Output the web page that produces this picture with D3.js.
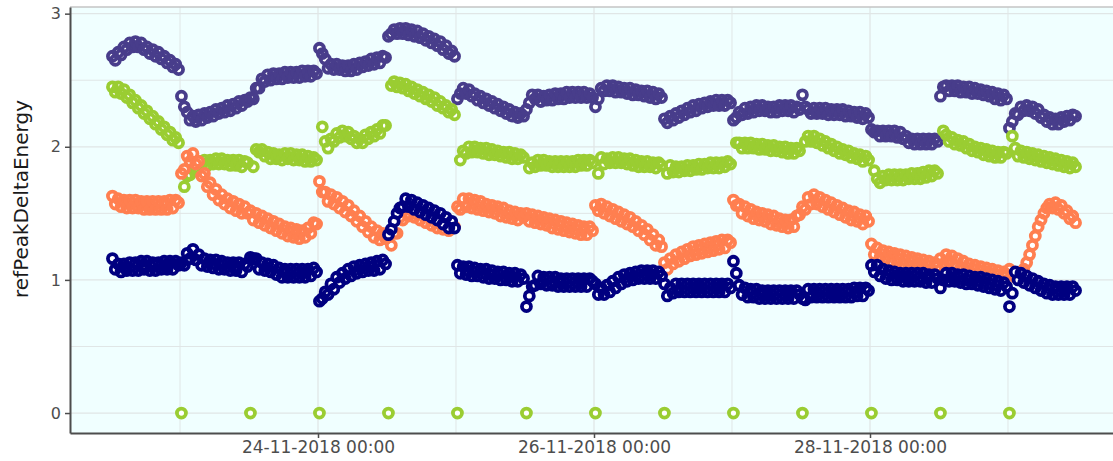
<!DOCTYPE html>
<html>
<head>
<meta charset="utf-8">
<script src="https://cdn.jsdelivr.net/npm/d3@7/dist/d3.min.js"></script>
<style>
  body { margin: 0; background: #ffffff; }
  svg { display: block; font-family: "DejaVu Sans", sans-serif; }
</style>
</head>
<body>
<svg id="chart" width="1113" height="461"></svg>
<script>
// Readings every 30 minutes, starting 22-11-2018 12:15 (UTC); one line per 12-hour block.
const startTime = "2018-11-22T12:15:00Z";
const stepMinutes = 30;

const seriesNames = ["slate", "green", "coral", "navy"];
const seriesColors = ["#483d8b", "#9acd32", "#ff7f50", "#000080"];

const slateValues = [
  2.68,2.65,2.71,2.69,2.75,2.73,2.78,2.75,2.79,2.75,2.78,2.73,2.75,2.70,2.73,2.68,2.71,2.66,2.68,2.63,2.65,2.60,2.62,2.58,
  2.38,2.30,2.26,2.20,2.23,2.19,2.24,2.20,2.25,2.22,2.26,2.23,2.28,2.25,2.29,2.26,2.31,2.27,2.32,2.29,2.34,2.31,2.35,2.34,
  2.37,2.36,2.44,2.44,2.51,2.49,2.54,2.50,2.55,2.51,2.55,2.51,2.56,2.52,2.56,2.52,2.56,2.52,2.57,2.53,2.57,2.53,2.57,2.55,
  2.74,2.70,2.66,2.59,2.62,2.58,2.62,2.58,2.61,2.57,2.61,2.57,2.62,2.58,2.63,2.60,2.64,2.61,2.66,2.62,2.67,2.63,2.68,2.67,
  2.83,2.85,2.88,2.85,2.89,2.85,2.89,2.84,2.88,2.83,2.87,2.82,2.85,2.80,2.83,2.78,2.81,2.76,2.79,2.73,2.76,2.70,2.72,2.68,
  2.36,2.40,2.44,2.40,2.43,2.38,2.40,2.35,2.38,2.33,2.36,2.31,2.34,2.29,2.32,2.27,2.30,2.25,2.28,2.23,2.26,2.22,2.25,2.23,
  2.28,2.33,2.39,2.36,2.39,2.34,2.38,2.35,2.39,2.35,2.40,2.36,2.40,2.36,2.41,2.37,2.41,2.37,2.41,2.37,2.41,2.37,2.40,2.37,
  2.30,2.36,2.44,2.42,2.46,2.42,2.46,2.41,2.45,2.41,2.44,2.40,2.44,2.39,2.43,2.39,2.42,2.38,2.42,2.37,2.41,2.36,2.40,2.37,
  2.21,2.18,2.23,2.20,2.25,2.22,2.27,2.24,2.29,2.26,2.31,2.27,2.32,2.29,2.33,2.30,2.34,2.31,2.35,2.31,2.35,2.31,2.35,2.33,
  2.20,2.22,2.26,2.24,2.29,2.25,2.30,2.26,2.31,2.27,2.31,2.27,2.30,2.26,2.30,2.26,2.31,2.27,2.31,2.27,2.31,2.26,2.30,2.28,
  2.39,2.30,2.28,2.25,2.29,2.25,2.29,2.25,2.29,2.24,2.28,2.24,2.28,2.24,2.28,2.23,2.27,2.23,2.26,2.22,2.26,2.21,2.25,2.22,
  2.13,2.11,2.12,2.08,2.12,2.08,2.12,2.08,2.12,2.07,2.11,2.06,2.08,2.03,2.06,2.02,2.06,2.02,2.06,2.02,2.06,2.02,2.06,2.04,
  2.38,2.45,2.46,2.42,2.46,2.42,2.46,2.41,2.45,2.41,2.45,2.40,2.44,2.40,2.43,2.39,2.42,2.38,2.41,2.36,2.40,2.35,2.39,2.36,
  2.14,2.19,2.25,2.24,2.30,2.27,2.31,2.27,2.30,2.25,2.28,2.22,2.24,2.19,2.22,2.17,2.21,2.17,2.22,2.19,2.23,2.20,2.24,2.23
];

const greenValues = [
  2.45,2.41,2.45,2.40,2.43,2.37,2.39,2.33,2.35,2.29,2.31,2.25,2.27,2.21,2.23,2.17,2.19,2.13,2.15,2.09,2.11,2.05,2.07,2.03,
  0,1.70,1.78,1.79,1.86,1.84,1.89,1.85,1.90,1.86,1.90,1.87,1.91,1.87,1.91,1.87,1.90,1.86,1.90,1.86,1.90,1.85,1.89,1.88,
  0,1.85,1.98,1.96,1.98,1.93,1.96,1.91,1.95,1.91,1.94,1.90,1.95,1.91,1.95,1.90,1.94,1.90,1.94,1.89,1.93,1.89,1.92,1.90,
  0,2.15,2.04,1.99,2.06,2.04,2.10,2.07,2.12,2.08,2.11,2.06,2.08,2.03,2.06,2.03,2.09,2.06,2.11,2.08,2.13,2.10,2.16,2.16,
  0,2.46,2.49,2.45,2.48,2.44,2.47,2.42,2.45,2.40,2.43,2.38,2.41,2.36,2.39,2.34,2.37,2.31,2.34,2.29,2.31,2.26,2.28,2.24,
  0,1.90,1.97,1.95,2.00,1.96,2.00,1.96,1.99,1.95,1.99,1.94,1.98,1.94,1.97,1.93,1.96,1.92,1.96,1.91,1.95,1.91,1.94,1.92,
  0,1.84,1.88,1.85,1.90,1.86,1.90,1.86,1.89,1.85,1.89,1.85,1.89,1.85,1.89,1.85,1.89,1.85,1.90,1.86,1.90,1.86,1.90,1.88,
  0,1.80,1.92,1.87,1.91,1.88,1.92,1.88,1.92,1.88,1.91,1.87,1.91,1.86,1.90,1.85,1.89,1.85,1.89,1.85,1.88,1.84,1.88,1.86,
  0,1.80,1.86,1.81,1.85,1.81,1.85,1.82,1.86,1.82,1.86,1.83,1.87,1.83,1.87,1.84,1.88,1.84,1.88,1.84,1.88,1.85,1.89,1.87,
  0,2.03,2.03,1.99,2.03,1.99,2.03,1.99,2.02,1.98,2.02,1.98,2.01,1.97,2.01,1.97,2.00,1.96,2.00,1.95,1.99,1.95,1.99,1.97,
  0,2.04,2.08,2.04,2.08,2.03,2.06,2.01,2.04,1.99,2.02,1.97,2.00,1.95,1.98,1.94,1.97,1.92,1.95,1.91,1.94,1.89,1.93,1.90,
  0,1.82,1.76,1.73,1.78,1.75,1.79,1.75,1.79,1.75,1.79,1.75,1.79,1.76,1.80,1.76,1.80,1.76,1.81,1.77,1.82,1.78,1.82,1.80,
  0,2.12,2.09,2.04,2.07,2.02,2.05,2.01,2.04,1.99,2.02,1.97,2.00,1.96,1.99,1.94,1.98,1.93,1.97,1.92,1.96,1.92,1.96,1.95,
  0,2.08,1.99,1.93,1.97,1.92,1.96,1.91,1.95,1.90,1.94,1.89,1.93,1.88,1.92,1.87,1.91,1.86,1.90,1.85,1.89,1.84,1.88,1.85
];

const coralValues = [
  1.63,1.57,1.61,1.55,1.60,1.54,1.60,1.54,1.60,1.54,1.59,1.53,1.59,1.53,1.59,1.53,1.59,1.53,1.59,1.53,1.60,1.54,1.60,1.58,
  1.80,1.83,1.93,1.89,1.95,1.87,1.89,1.78,1.80,1.70,1.73,1.64,1.68,1.60,1.64,1.57,1.61,1.54,1.59,1.52,1.57,1.50,1.55,1.50,
  1.52,1.45,1.50,1.43,1.48,1.41,1.46,1.39,1.44,1.37,1.42,1.35,1.40,1.33,1.39,1.32,1.38,1.31,1.37,1.32,1.39,1.35,1.43,1.42,
  1.74,1.66,1.66,1.59,1.64,1.57,1.62,1.54,1.59,1.51,1.56,1.48,1.52,1.44,1.48,1.40,1.44,1.36,1.40,1.32,1.37,1.30,1.35,1.31,
  1.33,1.26,1.35,1.35,1.47,1.45,1.53,1.48,1.54,1.47,1.52,1.45,1.50,1.43,1.48,1.41,1.46,1.39,1.45,1.38,1.43,1.37,1.43,1.40,
  1.55,1.53,1.61,1.55,1.61,1.54,1.60,1.53,1.59,1.52,1.57,1.51,1.56,1.50,1.55,1.48,1.54,1.47,1.52,1.46,1.51,1.45,1.50,1.47,
  1.50,1.44,1.49,1.43,1.48,1.42,1.47,1.41,1.46,1.39,1.45,1.38,1.44,1.37,1.43,1.36,1.42,1.35,1.41,1.34,1.40,1.34,1.40,1.37,
  1.56,1.52,1.57,1.50,1.55,1.48,1.53,1.46,1.51,1.44,1.49,1.42,1.47,1.40,1.44,1.37,1.41,1.34,1.38,1.30,1.34,1.26,1.30,1.25,
  1.13,1.08,1.16,1.12,1.19,1.14,1.21,1.16,1.23,1.18,1.25,1.19,1.26,1.20,1.27,1.21,1.28,1.22,1.29,1.23,1.30,1.24,1.30,1.28,
  1.60,1.56,1.57,1.50,1.55,1.48,1.53,1.46,1.51,1.45,1.50,1.44,1.49,1.42,1.48,1.41,1.46,1.40,1.45,1.39,1.45,1.40,1.48,1.49,
  1.55,1.53,1.62,1.57,1.64,1.57,1.62,1.55,1.60,1.53,1.58,1.51,1.56,1.49,1.54,1.47,1.52,1.45,1.51,1.44,1.49,1.42,1.48,1.44,
  1.27,1.19,1.24,1.17,1.22,1.16,1.21,1.14,1.20,1.13,1.19,1.12,1.18,1.11,1.17,1.10,1.16,1.09,1.15,1.08,1.14,1.07,1.13,1.10,
  1.16,1.12,1.19,1.13,1.18,1.11,1.16,1.09,1.14,1.07,1.12,1.05,1.11,1.04,1.10,1.03,1.09,1.02,1.08,1.01,1.07,1.00,1.06,1.03,
  1.08,1.04,1.02,1.02,1.04,1.08,1.13,1.19,1.26,1.33,1.40,1.45,1.50,1.54,1.57,1.54,1.58,1.53,1.56,1.50,1.52,1.46,1.48,1.43
];

const navyValues = [
  1.16,1.08,1.12,1.06,1.12,1.07,1.13,1.07,1.13,1.07,1.14,1.08,1.14,1.07,1.13,1.07,1.13,1.08,1.14,1.08,1.14,1.08,1.14,1.11,
  1.13,1.11,1.20,1.16,1.23,1.15,1.19,1.11,1.16,1.10,1.15,1.09,1.15,1.08,1.14,1.08,1.13,1.07,1.13,1.07,1.13,1.06,1.12,1.10,
  1.17,1.16,1.16,1.08,1.13,1.07,1.12,1.06,1.11,1.04,1.09,1.02,1.08,1.02,1.08,1.02,1.08,1.02,1.08,1.02,1.08,1.03,1.09,1.06,
  0.84,0.86,0.91,0.89,0.97,0.93,1.02,0.98,1.05,1.01,1.08,1.03,1.10,1.05,1.11,1.06,1.12,1.07,1.13,1.07,1.14,1.08,1.15,1.12,
  1.34,1.38,1.44,1.50,1.54,1.55,1.61,1.55,1.60,1.53,1.58,1.51,1.56,1.49,1.54,1.47,1.52,1.45,1.50,1.42,1.47,1.39,1.44,1.39,
  1.11,1.05,1.10,1.04,1.10,1.03,1.09,1.03,1.08,1.02,1.08,1.01,1.07,1.01,1.06,1.00,1.06,1.00,1.05,0.99,1.05,0.99,1.04,1.01,
  0.80,0.88,0.95,0.96,1.03,0.97,1.02,0.96,1.02,0.96,1.02,0.95,1.01,0.95,1.01,0.95,1.01,0.95,1.01,0.95,1.01,0.95,1.01,0.99,
  0.97,0.89,0.94,0.89,0.96,0.91,0.99,0.94,1.02,0.97,1.04,0.99,1.05,1.00,1.06,1.01,1.07,1.01,1.07,1.01,1.07,1.01,1.06,1.03,
  0.97,0.88,0.94,0.90,0.97,0.91,0.97,0.91,0.97,0.91,0.97,0.91,0.97,0.91,0.97,0.91,0.97,0.91,0.97,0.91,0.97,0.91,0.97,0.94,
  1.14,1.05,0.96,0.89,0.94,0.87,0.93,0.87,0.93,0.86,0.92,0.86,0.92,0.86,0.92,0.86,0.92,0.86,0.92,0.86,0.92,0.86,0.92,0.89,
  0.86,0.85,0.93,0.87,0.93,0.87,0.93,0.87,0.93,0.87,0.93,0.87,0.93,0.87,0.93,0.87,0.93,0.87,0.94,0.88,0.94,0.88,0.94,0.92,
  1.11,1.06,1.11,1.03,1.08,1.01,1.07,1.00,1.06,1.00,1.05,0.99,1.05,0.99,1.05,0.99,1.05,0.99,1.05,0.98,1.04,0.98,1.04,1.01,
  0.94,1.00,1.05,0.99,1.05,0.99,1.04,0.98,1.04,0.97,1.03,0.97,1.02,0.96,1.02,0.95,1.01,0.94,1.00,0.93,0.99,0.92,0.98,0.95,
  0.80,0.90,1.06,1.00,1.05,0.98,1.03,0.96,1.01,0.94,0.99,0.92,0.97,0.90,0.96,0.89,0.95,0.89,0.95,0.89,0.95,0.89,0.95,0.92
];

const xTickDates = ["2018-11-24T00:00:00Z", "2018-11-26T00:00:00Z", "2018-11-28T00:00:00Z"];
const xMinorDates = ["2018-11-23T00:00:00Z", "2018-11-25T00:00:00Z", "2018-11-27T00:00:00Z", "2018-11-29T00:00:00Z"];
const yTickValues = [0, 1, 2, 3];
const yMinorValues = [0.5, 1.5, 2.5];
const yTitle = "refPeakDeltaEnergy";

// ---- layout ----
const svg = d3.select("#chart");
const panel = { left: 70, top: 7, right: 1113, bottom: 433 };

const x = d3.scaleUtc()
  .domain([new Date("2018-11-22T04:52:10Z"), new Date("2018-11-29T18:15:40Z")])
  .range([panel.left, panel.right]);
const y = d3.scaleLinear()
  .domain([-0.15, 3.05])
  .range([panel.bottom, panel.top]);

// panel background
svg.append("rect")
  .attr("x", panel.left).attr("y", panel.top)
  .attr("width", panel.right - panel.left).attr("height", panel.bottom - panel.top)
  .attr("fill", "#f0ffff");

// grid
const grid = svg.append("g").attr("stroke", "#e0e6e6").attr("fill", "none");
grid.selectAll("line.hmin").data(yMinorValues).join("line")
  .attr("x1", panel.left).attr("x2", panel.right)
  .attr("y1", d => y(d)).attr("y2", d => y(d)).attr("stroke-width", 1);
grid.selectAll("line.hmaj").data(yTickValues).join("line")
  .attr("x1", panel.left).attr("x2", panel.right)
  .attr("y1", d => y(d)).attr("y2", d => y(d)).attr("stroke-width", 1.3);
grid.selectAll("line.vmin").data(xMinorDates).join("line")
  .attr("y1", panel.top).attr("y2", panel.bottom)
  .attr("x1", d => x(new Date(d))).attr("x2", d => x(new Date(d))).attr("stroke-width", 1);
grid.selectAll("line.vmaj").data(xTickDates).join("line")
  .attr("y1", panel.top).attr("y2", panel.bottom)
  .attr("x1", d => x(new Date(d))).attr("x2", d => x(new Date(d))).attr("stroke-width", 1.3);

// top edge of the panel
svg.append("line")
  .attr("x1", panel.left).attr("x2", panel.right)
  .attr("y1", panel.top).attr("y2", panel.top)
  .attr("stroke", "#c4c4c4").attr("stroke-width", 1.5);

// points: for each series, white discs first, then the coloured rings on top
const t0 = new Date(startTime).getTime();
const allValues = [slateValues, greenValues, coralValues, navyValues];
const R = 4.5, SW = 3.8;
allValues.forEach((vals, si) => {
  const pts = vals.map((v, i) => ({ t: new Date(t0 + i * stepMinutes * 60000), v }));
  const g = svg.append("g").attr("class", "series-" + seriesNames[si]);
  g.append("g").selectAll("circle").data(pts).join("circle")
    .attr("cx", d => x(d.t))
    .attr("cy", d => y(d.v))
    .attr("r", R)
    .attr("fill", "#ffffff");
  g.append("g").selectAll("circle").data(pts).join("circle")
    .attr("cx", d => x(d.t))
    .attr("cy", d => y(d.v))
    .attr("r", R)
    .attr("fill", "none")
    .attr("stroke", seriesColors[si])
    .attr("stroke-width", SW);
});

// axes
const fmt = d3.utcFormat("%d-%m-%Y %H:%M");
const xAxis = d3.axisBottom(x)
  .tickValues(xTickDates.map(d => new Date(d)))
  .tickFormat(fmt)
  .tickSize(5).tickSizeOuter(0).tickPadding(3);
const gx = svg.append("g").attr("transform", `translate(0,${panel.bottom})`).call(xAxis);

const yAxis = d3.axisLeft(y)
  .tickValues(yTickValues)
  .tickFormat(d3.format("d"))
  .tickSize(5).tickSizeOuter(0).tickPadding(4);
const gy = svg.append("g").attr("transform", `translate(${panel.left},0)`).call(yAxis);

[gx, gy].forEach(g => {
  g.select(".domain").attr("stroke", "#4d4d4d").attr("stroke-width", 2);
  g.selectAll(".tick line").attr("stroke", "#4d4d4d").attr("stroke-width", 1.5);
  g.selectAll(".tick text")
    .attr("fill", "#4d4d4d")
    .style("font-family", "'DejaVu Sans', sans-serif");
});
gx.selectAll(".tick text").style("font-size", "17px");
gy.selectAll(".tick text").style("font-size", "16px");

// y axis title
svg.append("text")
  .attr("transform", `translate(28,199) rotate(-90)`)
  .attr("text-anchor", "middle")
  .attr("fill", "#1a1a1a")
  .style("font-size", "20px")
  .text(yTitle);
</script>
</body>
</html>
